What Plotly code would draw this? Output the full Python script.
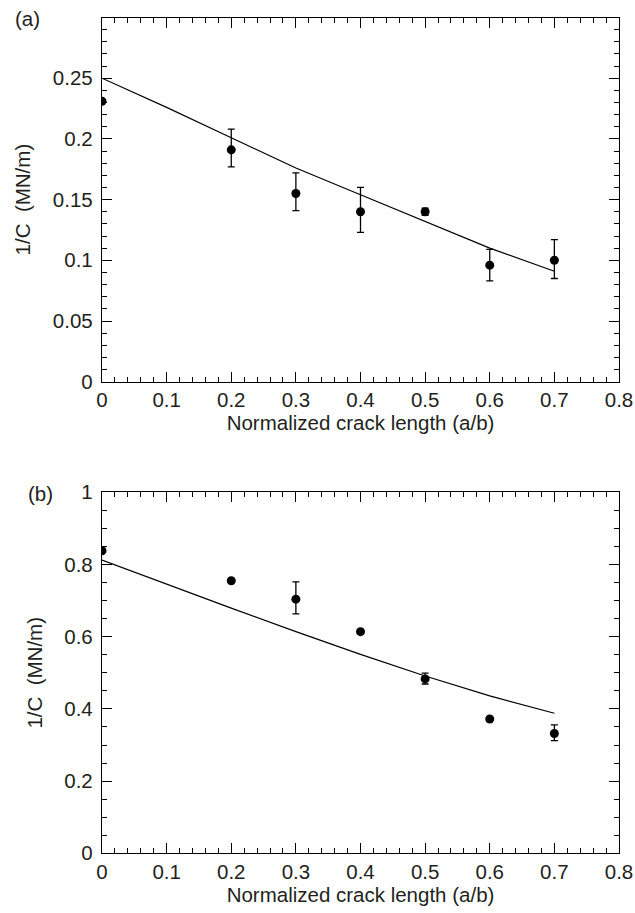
import plotly.graph_objects as go

# ---- data ----
crack = [0.0, 0.2, 0.3, 0.4, 0.5, 0.6, 0.7]
a_vals = [0.231, 0.191, 0.155, 0.140, 0.140, 0.096, 0.100]
a_err_plus = [0.0, 0.017, 0.017, 0.020, 0.003, 0.013, 0.017]
a_err_minus = [0.0, 0.014, 0.014, 0.017, 0.003, 0.013, 0.015]

b_vals = [0.838, 0.755, 0.704, 0.614, 0.483, 0.372, 0.332]
b_err_plus = [0.0, 0.0, 0.048, 0.0, 0.016, 0.0, 0.024]
b_err_minus = [0.0, 0.0, 0.041, 0.0, 0.014, 0.0, 0.020]

line_x = [0.0, 0.1, 0.2, 0.3, 0.4, 0.5, 0.6, 0.7]
a_line = [0.250, 0.226, 0.201, 0.176, 0.154, 0.132, 0.110, 0.091]
b_line = [0.812, 0.745, 0.679, 0.614, 0.551, 0.491, 0.436, 0.388]

x_ticks = [0, 0.1, 0.2, 0.3, 0.4, 0.5, 0.6, 0.7, 0.8]
a_yticks = [0, 0.05, 0.1, 0.15, 0.2, 0.25]
b_yticks = [0, 0.2, 0.4, 0.6, 0.8, 1.0]

x_title = "Normalized crack length (a/b)"
y_title = "1/C  (MN/m)"

W, H = 635, 913
FONT = "Liberation Sans, Arial, Helvetica, sans-serif"
TXT = "#231f20"
FS = 20.5

fig = go.Figure()

def add_panel(xa, ya, vals, ep, em, line_vals):
    fig.add_trace(go.Scatter(
        x=line_x, y=line_vals, mode="lines",
        line=dict(color="black", width=1.2),
        xaxis=xa, yaxis=ya, showlegend=False, hoverinfo="skip"))
    fig.add_trace(go.Scatter(
        x=crack, y=vals, mode="markers",
        marker=dict(color="black", size=9),
        error_y=dict(type="data", symmetric=False, array=ep, arrayminus=em,
                     color="black", thickness=1.3, width=3.5),
        xaxis=xa, yaxis=ya, showlegend=False))

add_panel("x", "y", a_vals, a_err_plus, a_err_minus, a_line)
add_panel("x2", "y2", b_vals, b_err_plus, b_err_minus, b_line)

x0, x1 = 102 / W, 619 / W
a_dom = [1 - 381.7 / H, 1 - 17.5 / H]
b_dom = [1 - 853.3 / H, 1 - 492.3 / H]

common_axis = dict(
    showline=True, linecolor="black", linewidth=1.3, mirror="ticks",
    ticks="inside", ticklen=10, tickwidth=1.2, tickcolor="black",
    showgrid=False, zeroline=False, automargin=False,
    ticklabeloverflow="allow",
    tickfont=dict(family=FONT, size=FS, color=TXT),
)

def xaxis_cfg(anchor):
    d = dict(common_axis)
    d.update(domain=[x0, x1], range=[0, 0.8], anchor=anchor,
             tickmode="array", tickvals=x_ticks,
             minor=dict(tickmode="linear", tick0=0, dtick=0.02, ticks="inside",
                        ticklen=5, tickwidth=1.2, tickcolor="black", showgrid=False),
             title=dict(text=x_title, font=dict(family=FONT, size=FS, color=TXT),
                        standoff=1))
    return d

def yaxis_cfg(anchor, domain, rng, vals, minor_dtick):
    d = dict(common_axis)
    d.update(domain=domain, range=rng, anchor=anchor,
             tickmode="array", tickvals=vals, ticklabelstandoff=4,
             minor=dict(tickmode="linear", tick0=0, dtick=minor_dtick, ticks="inside",
                        ticklen=5, tickwidth=1.2, tickcolor="black", showgrid=False),
             title=dict(text=y_title, font=dict(family=FONT, size=FS, color=TXT),
                        standoff=16))
    return d

fig.update_layout(
    width=W, height=H,
    margin=dict(l=0, r=0, t=0, b=0),
    paper_bgcolor="white", plot_bgcolor="white",
    xaxis=xaxis_cfg("y"),
    yaxis=yaxis_cfg("x", a_dom, [0, 0.3], a_yticks, 0.01),
    xaxis2=xaxis_cfg("y2"),
    yaxis2=yaxis_cfg("x2", b_dom, [0, 1.0], b_yticks, 0.05),
    annotations=[
        dict(text="(a)", x=13 / W, y=1 - 18 / H, xref="paper", yref="paper",
             xanchor="left", yanchor="middle", showarrow=False,
             font=dict(family=FONT, size=FS, color=TXT)),
        dict(text="(b)", x=26 / W, y=1 - 493 / H, xref="paper", yref="paper",
             xanchor="left", yanchor="middle", showarrow=False,
             font=dict(family=FONT, size=FS, color=TXT)),
    ],
)

fig.write_html(
    "out.html",
    config={"displayModeBar": False},
    post_script="document.body.style.margin='0';document.body.style.overflow='hidden';",
)
